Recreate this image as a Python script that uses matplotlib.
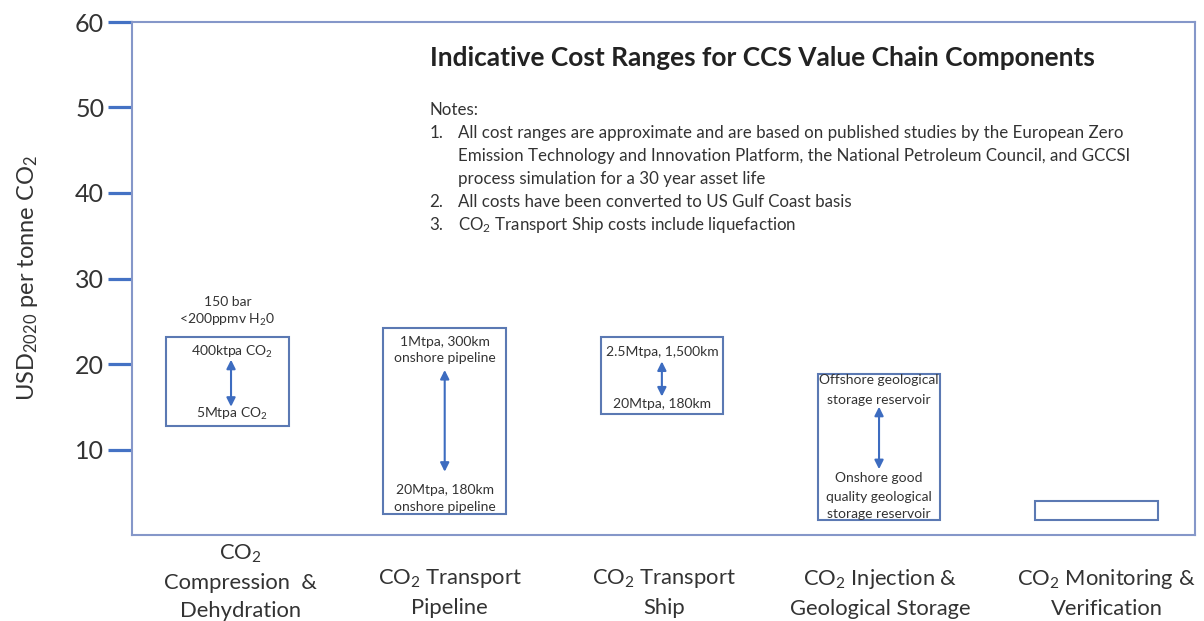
import matplotlib
matplotlib.use("Agg")
import matplotlib.pyplot as plt
from matplotlib.transforms import blended_transform_factory

plt.rcParams['font.family'] = ['Lato', 'DejaVu Sans']
plt.rcParams['mathtext.fontset'] = 'custom'
plt.rcParams['mathtext.rm'] = 'Lato'
plt.rcParams['mathtext.it'] = 'Lato:italic'
plt.rcParams['mathtext.bf'] = 'Lato:bold'

# cost ranges, USD2020 per tonne CO2
categories = ['CO$_\\mathregular{2}$\nCompression  &\nDehydration',
              'CO$_\\mathregular{2}$ Transport\nPipeline',
              'CO$_\\mathregular{2}$ Transport\nShip',
              'CO$_\\mathregular{2}$ Injection &\nGeological Storage',
              'CO$_\\mathregular{2}$ Monitoring &\nVerification']
cost_low = [12.8, 2.4, 14.2, 1.8, 1.8]
cost_high = [23.2, 24.25, 23.2, 18.8, 4.0]

# arrow ends inside the boxes (first four components)
arrow_high = [20.5, 19.3, 20.3, 15.0]
arrow_low = [15.0, 7.4, 16.2, 7.7]

notes = [
    ('', 'Notes:'),
    ('1.', 'All cost ranges are approximate and are based on published studies by the European Zero'),
    ('', 'Emission Technology and Innovation Platform, the National Petroleum Council, and GCCSI'),
    ('', 'process simulation for a 30 year asset life'),
    ('2.', 'All costs have been converted to US Gulf Coast basis'),
    ('3.', 'CO$_\\mathregular{2}$ Transport Ship costs include liquefaction'),
]

box_color = '#5b79b3'
arrow_color = '#3d6cc0'
axis_blue = '#4472c4'
spine_color = '#8597c9'
text_color = '#333333'

fig = plt.figure(figsize=(12.04, 6.21), dpi=100)
ax = fig.add_axes([132 / 1204, 86 / 621, 1063 / 1204, 513 / 621])

x = list(range(len(categories)))
ax.bar(x, [h - l for h, l in zip(cost_high, cost_low)], bottom=cost_low,
       width=0.565, fill=False, edgecolor=box_color, linewidth=1.5)

for i in range(len(arrow_high)):
    xa = x[i] + (0.016 if i == 0 else 0)
    ax.annotate('', xy=(xa, arrow_low[i]), xytext=(xa, arrow_high[i]),
                arrowprops=dict(arrowstyle='<|-|>', color=arrow_color, lw=1.5,
                                mutation_scale=13, shrinkA=0, shrinkB=0))

# in-box notes
small = dict(ha='center', va='center', fontsize=10, color=text_color)
ax.text(0, 27.3, '150 bar', **small)
ax.text(0, 25.2, '<200ppmv H$_\\mathregular{2}$0', **small)
ax.text(0.02, 21.4, '400ktpa CO$_\\mathregular{2}$', **small)
ax.text(0.02, 14.1, '5Mtpa CO$_\\mathregular{2}$', **small)
ax.text(1, 22.6, '1Mtpa, 300km', **small)
ax.text(1, 20.75, 'onshore pipeline', **small)
ax.text(1, 5.3, '20Mtpa, 180km', **small)
ax.text(1, 3.3, 'onshore pipeline', **small)
ax.text(2, 21.4, '2.5Mtpa, 1,500km', **small)
ax.text(2, 15.3, '20Mtpa, 180km', **small)
ax.text(3, 18.1, 'Offshore geological', **small)
ax.text(3, 15.8, 'storage reservoir', **small)
ax.text(3, 6.7, 'Onshore good', **small)
ax.text(3, 4.5, 'quality geological', **small)
ax.text(3, 2.5, 'storage reservoir', **small)

# title and notes
ax.text(0.280, 0.930, 'Indicative Cost Ranges for CCS Value Chain Components',
        transform=ax.transAxes, fontsize=18.9, fontweight='bold', color='#222222',
        va='center', ha='left')
y0 = 0.828
for k, (num, line) in enumerate(notes):
    yy = y0 - k * 0.0448
    if num:
        ax.text(0.280, yy, num, transform=ax.transAxes, fontsize=12.2,
                color=text_color, va='center', ha='left')
    xx = 0.280 if k == 0 else 0.307
    ax.text(xx, yy, line, transform=ax.transAxes, fontsize=12.2,
            color=text_color, va='center', ha='left')

ax.set_xlim(-0.44, 4.455)
ax.set_ylim(0, 60)
ax.set_yticks([10, 20, 30, 40, 50, 60])
ax.set_xticks(x)
ax.set_xticklabels([])
ax.tick_params(axis='x', length=0)
ax.tick_params(axis='y', length=17, width=2.3, color=axis_blue, pad=3,
               labelsize=18, labelcolor=text_color)
for s in ax.spines.values():
    s.set_color(spine_color)
    s.set_linewidth(1.5)

# category labels, bottom-weighted like the original slide
trans = blended_transform_factory(ax.transData, ax.transAxes)
label_shift = [0.058, 0.023, 0.01, 0.007, 0.048]
for i, lbl in enumerate(categories):
    n_lines = lbl.count('\n') + 1
    top = -8 / 513 if n_lines == 3 else -32 / 513
    ax.text(x[i] + label_shift[i], top, lbl, transform=trans, ha='center',
            va='top', fontsize=15.8, color=text_color, linespacing=1.5,
            clip_on=False)

fig.text(28 / 1204, 1 - 278 / 621,
         'USD$_\\mathregular{2020}$ per tonne CO$_\\mathregular{2}$',
         rotation=90, ha='center', va='center', fontsize=17, color=text_color)

fig.savefig('out.png', dpi=100)
